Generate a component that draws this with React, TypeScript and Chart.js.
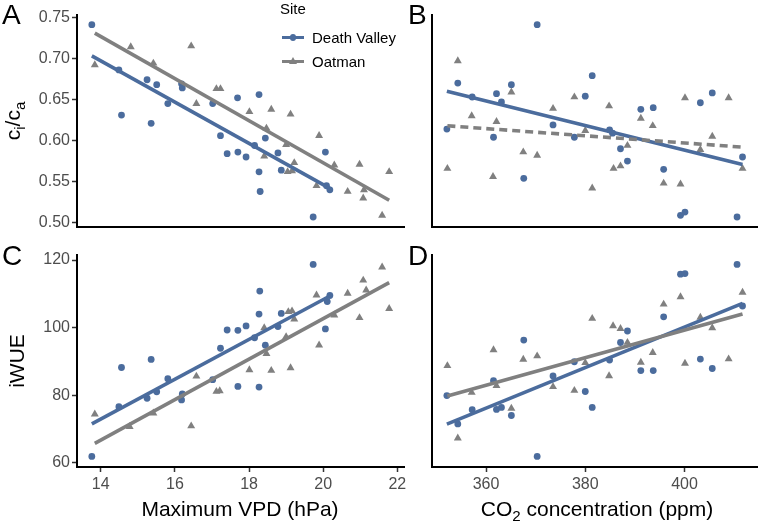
import React, { useEffect, useRef } from "react";
import { Chart, registerables } from "chart.js";

Chart.register(...registerables);

// ---------- data ----------
// Panel A: maximum VPD (hPa) vs ci/ca
const aDvVpd = [13.76, 14.49, 14.56, 15.25, 15.51, 15.36, 15.81, 16.18, 16.2, 17.02, 17.69, 18.27, 17.23, 17.41, 17.7, 17.92, 18.15, 18.44, 18.27, 18.3, 18.78, 18.87, 20.06, 20.09, 20.18, 19.73];
const aDvCi = [0.741, 0.686, 0.631, 0.674, 0.668, 0.621, 0.645, 0.669, 0.664, 0.645, 0.652, 0.656, 0.606, 0.584, 0.586, 0.58, 0.594, 0.603, 0.562, 0.538, 0.585, 0.564, 0.586, 0.545, 0.54, 0.507];
const aOatVpd = [13.84, 14.81, 15.42, 16.44, 16.58, 17.12, 17.23, 18.01, 18.6, 19.12, 18.47, 19.0, 18.41, 19.22, 19.04, 19.16, 19.89, 19.82, 20.3, 20.66, 20.98, 21.08, 21.1, 21.78, 21.59];
const aOatCi = [0.692, 0.714, 0.694, 0.715, 0.645, 0.663, 0.663, 0.635, 0.638, 0.632, 0.615, 0.595, 0.581, 0.573, 0.562, 0.563, 0.606, 0.545, 0.57, 0.538, 0.571, 0.53, 0.54, 0.562, 0.509];

// Panel B: CO2 (ppm) vs ci/ca
const bDvCo2 = [370.3, 354.3, 352.1, 357.2, 362.1, 363.1, 365.1, 361.5, 367.6, 373.5, 377.8, 380.0, 381.4, 384.9, 385.5, 387.1, 388.5, 391.2, 393.7, 395.8, 399.2, 400.1, 403.2, 405.6, 411.7, 410.6];
const bDvCi = [0.741, 0.67, 0.614, 0.653, 0.657, 0.647, 0.668, 0.604, 0.554, 0.619, 0.604, 0.654, 0.679, 0.613, 0.609, 0.59, 0.575, 0.638, 0.64, 0.565, 0.509, 0.513, 0.646, 0.658, 0.58, 0.507];
const bOatCo2 = [354.3, 352.2, 357.1, 362.1, 361.4, 365.1, 367.5, 370.3, 373.5, 377.8, 380.0, 381.4, 384.8, 385.7, 387.1, 388.5, 391.2, 393.6, 395.8, 399.2, 400.1, 403.2, 405.6, 408.9, 411.7];
const bOatCi = [0.697, 0.566, 0.63, 0.623, 0.556, 0.659, 0.586, 0.582, 0.639, 0.653, 0.612, 0.542, 0.642, 0.566, 0.569, 0.594, 0.627, 0.618, 0.548, 0.547, 0.652, 0.589, 0.605, 0.652, 0.566];

// Panel C: maximum VPD (hPa) vs iWUE
const cDvVpd = [13.76, 14.49, 14.56, 15.25, 15.51, 15.36, 15.81, 16.18, 16.2, 17.02, 17.23, 17.41, 17.7, 17.92, 17.7, 18.15, 18.27, 18.29, 18.27, 18.44, 18.78, 18.87, 19.73, 20.06, 20.11, 20.18];
const cDvW = [61.9, 76.6, 88.2, 79.1, 81.0, 90.6, 84.9, 78.6, 80.4, 84.6, 93.9, 99.3, 99.2, 100.5, 82.6, 97.0, 104.0, 110.8, 82.4, 94.8, 100.3, 104.2, 118.7, 99.6, 107.7, 109.5];
const cOatVpd = [13.84, 14.78, 15.42, 16.44, 16.58, 17.12, 17.21, 18.01, 18.6, 19.12, 18.41, 18.47, 19.0, 19.06, 19.16, 19.22, 19.82, 19.89, 20.3, 20.66, 20.98, 21.08, 21.16, 21.59, 21.78];
const cOatW = [74.4, 70.7, 74.7, 70.9, 85.6, 81.1, 81.3, 87.5, 87.3, 88.1, 99.9, 92.3, 97.3, 104.7, 104.9, 102.5, 109.6, 94.8, 103.7, 110.1, 102.9, 114.0, 111.1, 117.9, 105.6];

// Panel D: CO2 (ppm) vs iWUE
const dDvCo2 = [370.3, 352.1, 354.3, 357.2, 361.5, 362.1, 363.1, 365.1, 367.6, 373.5, 377.8, 380.0, 381.4, 384.9, 387.1, 388.5, 391.2, 393.7, 395.8, 399.2, 400.1, 403.2, 405.6, 410.6, 411.7];
const dDvW = [61.9, 79.9, 71.5, 75.7, 84.3, 75.8, 76.4, 74.0, 96.3, 85.7, 89.9, 81.1, 76.4, 90.4, 95.6, 99.0, 87.3, 87.3, 103.2, 115.8, 116.0, 90.7, 87.9, 118.7, 106.4];
const dOatCo2 = [352.2, 354.3, 357.1, 361.5, 362.1, 365.1, 367.5, 370.3, 373.5, 377.8, 380.0, 381.4, 384.8, 385.6, 387.1, 388.5, 391.2, 393.6, 395.8, 399.2, 400.1, 403.2, 405.6, 408.9, 411.7];
const dOatW = [88.7, 67.3, 80.8, 93.4, 82.8, 76.1, 90.6, 91.6, 82.5, 81.4, 89.6, 102.7, 85.7, 100.5, 99.7, 95.6, 89.7, 92.6, 106.9, 109.1, 89.4, 103.0, 99.9, 90.7, 110.4];

// tick labels & axis limits
const ciTicks = [0.5, 0.55, 0.6, 0.65, 0.7, 0.75];
const iwueTicks = [60, 80, 100, 120];
const vpdTicks = [14, 16, 18, 20, 22];
const co2Ticks = [360, 380, 400];
const ciLimits = [0.4948, 0.7528];
const iwueLimits = [58.77, 121.48];
const vpdLimits = [13.36, 22.18];
const co2Limits = [349.1, 414.7];

const siteNames = ["Death Valley", "Oatman"];

// ---------- style ----------
const BLUE = "#4b6c9d";
const GREY = "#808080";
const FONT = "'Liberation Sans', Arial, Helvetica, sans-serif";
const TICK_TEXT = "#4d4d4d";

function pts(xs: number[], ys: number[]) {
  return xs.map((x, i) => ({ x, y: ys[i] }));
}

function fitLine(xs: number[], ys: number[]) {
  const n = xs.length;
  const mx = xs.reduce((a, b) => a + b, 0) / n;
  const my = ys.reduce((a, b) => a + b, 0) / n;
  let sxy = 0;
  let sxx = 0;
  for (let i = 0; i < n; i++) {
    sxy += (xs[i] - mx) * (ys[i] - my);
    sxx += (xs[i] - mx) * (xs[i] - mx);
  }
  const b = sxy / sxx;
  const a = my - b * mx;
  const x0 = Math.min(...xs);
  const x1 = Math.max(...xs);
  return [
    { x: x0, y: a + b * x0 },
    { x: x1, y: a + b * x1 },
  ];
}

function buildDatasets(
  dvX: number[], dvY: number[], oatX: number[], oatY: number[], oatDashed: boolean
) {
  return [
    {
      type: "line",
      label: siteNames[1] + " fit",
      data: fitLine(oatX, oatY),
      showLine: true,
      borderColor: GREY,
      borderWidth: 3.6,
      borderDash: oatDashed ? [8, 5] : [],
      pointRadius: 0,
      fill: false,
      order: 0,
    },
    {
      type: "line",
      label: siteNames[0] + " fit",
      data: fitLine(dvX, dvY),
      showLine: true,
      borderColor: BLUE,
      borderWidth: 3.6,
      pointRadius: 0,
      fill: false,
      order: 1,
    },
    {
      type: "scatter",
      label: siteNames[1],
      data: pts(oatX, oatY),
      pointStyle: "triangle",
      pointRadius: 4.6,
      backgroundColor: GREY,
      borderColor: GREY,
      borderWidth: 0,
      order: 2,
    },
    {
      type: "scatter",
      label: siteNames[0],
      data: pts(dvX, dvY),
      pointStyle: "circle",
      pointRadius: 3.4,
      backgroundColor: BLUE,
      borderColor: BLUE,
      borderWidth: 0,
      order: 3,
    },
  ];
}

type PanelCfg = {
  xLim: number[];
  yLim: number[];
  xTicks: number[] | null;
  yTicks: number[] | null;
  yDigits: number;
  leftW: number;
  bottomH: number;
  padTop: number;
  padRight: number;
  datasets: any[];
};

function makeChart(canvas: HTMLCanvasElement, cfg: PanelCfg) {
  const axisCommon = (ticksArr: number[] | null, fit: (s: any) => void, digits: number, isX: boolean) => ({
    type: "linear",
    afterBuildTicks: (s: any) => {
      s.ticks = (ticksArr || []).map((v) => ({ value: v }));
    },
    afterFit: fit,
    border: { display: true, color: "#000000", width: 2 },
    grid: {
      display: true,
      drawOnChartArea: false,
      drawTicks: !!ticksArr,
      tickLength: 5,
      tickWidth: 1.5,
      color: "#333333",
    },
    ticks: {
      display: !!ticksArr,
      color: TICK_TEXT,
      font: { family: FONT, size: 16 },
      padding: isX ? 3 : 2,
      maxRotation: 0,
      autoSkip: false,
      callback: (v: any) => Number(v).toFixed(digits),
    },
  });
  return new Chart(canvas, {
    type: "scatter",
    data: { datasets: cfg.datasets },
    options: {
      animation: false,
      responsive: false,
      events: [],
      layout: { padding: { top: cfg.padTop, right: cfg.padRight, left: 0, bottom: 0 } },
      plugins: { legend: { display: false }, tooltip: { enabled: false }, title: { display: false } },
      scales: {
        x: {
          ...axisCommon(cfg.xTicks, (s: any) => { s.height = cfg.bottomH; }, 0, true),
          position: "bottom",
          min: cfg.xLim[0],
          max: cfg.xLim[1],
        },
        y: {
          ...axisCommon(cfg.yTicks, (s: any) => { s.width = cfg.leftW; }, cfg.yDigits, false),
          position: "left",
          min: cfg.yLim[0],
          max: cfg.yLim[1],
        },
      },
    } as any,
  } as any);
}

const abs = (l: number, t: number, extra: any = {}) => ({ position: "absolute" as const, left: l, top: t, ...extra });

export default function App() {
  const refA = useRef<HTMLCanvasElement>(null);
  const refB = useRef<HTMLCanvasElement>(null);
  const refC = useRef<HTMLCanvasElement>(null);
  const refD = useRef<HTMLCanvasElement>(null);

  useEffect(() => {
    const charts = [
      makeChart(refA.current!, {
        xLim: vpdLimits, yLim: ciLimits, xTicks: null, yTicks: ciTicks, yDigits: 2,
        leftW: 77, bottomH: 13, padTop: 15, padRight: 6,
        datasets: buildDatasets(aDvVpd, aDvCi, aOatVpd, aOatCi, false),
      }),
      makeChart(refB.current!, {
        xLim: co2Limits, yLim: ciLimits, xTicks: null, yTicks: null, yDigits: 2,
        leftW: 22, bottomH: 13, padTop: 15, padRight: 4,
        datasets: buildDatasets(bDvCo2, bDvCi, bOatCo2, bOatCi, true),
      }),
      makeChart(refC.current!, {
        xLim: vpdLimits, yLim: iwueLimits, xTicks: vpdTicks, yTicks: iwueTicks, yDigits: 0,
        leftW: 77, bottomH: 33, padTop: 15, padRight: 6,
        datasets: buildDatasets(cDvVpd, cDvW, cOatVpd, cOatW, false),
      }),
      makeChart(refD.current!, {
        xLim: co2Limits, yLim: iwueLimits, xTicks: co2Ticks, yTicks: null, yDigits: 0,
        leftW: 22, bottomH: 33, padTop: 15, padRight: 4,
        datasets: buildDatasets(dDvCo2, dDvW, dOatCo2, dOatW, false),
      }),
    ];
    return () => charts.forEach((c) => c.destroy());
  }, []);

  const letter = { fontSize: 28, lineHeight: "28px", color: "#000", fontFamily: FONT };
  const axTitle = { fontSize: 21, lineHeight: "21px", color: "#000", fontFamily: FONT, whiteSpace: "nowrap" as const };
  const legText = { fontSize: 15, lineHeight: "15px", color: "#000", fontFamily: FONT, whiteSpace: "nowrap" as const };

  return (
    <div style={{ position: "fixed", left: 0, top: 0, width: 762, height: 524, background: "#fff", overflow: "hidden" }}>
      <canvas ref={refA} width={410} height={240} style={abs(0, 0, { width: 410, height: 240 })} />
      <canvas ref={refB} width={352} height={240} style={abs(410, 0, { width: 352, height: 240 })} />
      <canvas ref={refC} width={410} height={260} style={abs(0, 240, { width: 410, height: 260 })} />
      <canvas ref={refD} width={352} height={260} style={abs(410, 240, { width: 352, height: 260 })} />

      {/* panel letters */}
      <div style={abs(2, 1, letter)}>A</div>
      <div style={abs(408, 1, letter)}>B</div>
      <div style={abs(2, 242, letter)}>C</div>
      <div style={abs(408, 242, letter)}>D</div>

      {/* y axis titles */}
      <div style={abs(16, 121, { ...axTitle, transform: "translate(-50%, -50%) rotate(-90deg)" })}>
        c<sub style={{ fontSize: "0.72em" }}>i</sub>/c<sub style={{ fontSize: "0.72em" }}>a</sub>
      </div>
      <div style={abs(16, 361, { ...axTitle, transform: "translate(-50%, -50%) rotate(-90deg)" })}>iWUE</div>

      {/* x axis titles */}
      <div style={abs(40, 498, { ...axTitle, width: 400, textAlign: "center" })}>Maximum VPD (hPa)</div>
      <div style={abs(397, 498, { ...axTitle, width: 400, textAlign: "center" })}>
        CO<sub style={{ fontSize: "0.72em" }}>2</sub> concentration (ppm)
      </div>

      {/* legend */}
      <div style={abs(280, 1, legText)}>Site</div>
      <div style={abs(282, 30, { display: "flex", alignItems: "center", height: 15 })}>
        <div style={{ position: "relative", width: 22, height: 15 }}>
          <div style={{ position: "absolute", left: 0, top: 5.7, width: 22, height: 3.6, background: BLUE }} />
          <div style={{ position: "absolute", left: 7.6, top: 4.1, width: 6.8, height: 6.8, borderRadius: "50%", background: BLUE }} />
        </div>
        <div style={{ ...legText, marginLeft: 8 }}>{siteNames[0]}</div>
      </div>
      <div style={abs(282, 54, { display: "flex", alignItems: "center", height: 15 })}>
        <div style={{ position: "relative", width: 22, height: 15 }}>
          <div style={{ position: "absolute", left: 0, top: 5.7, width: 22, height: 3.6, background: GREY }} />
          <div style={{ position: "absolute", left: 7, top: 2.8, width: 0, height: 0, borderLeft: "4px solid transparent", borderRight: "4px solid transparent", borderBottom: "7px solid " + GREY }} />
        </div>
        <div style={{ ...legText, marginLeft: 8 }}>{siteNames[1]}</div>
      </div>
    </div>
  );
}
